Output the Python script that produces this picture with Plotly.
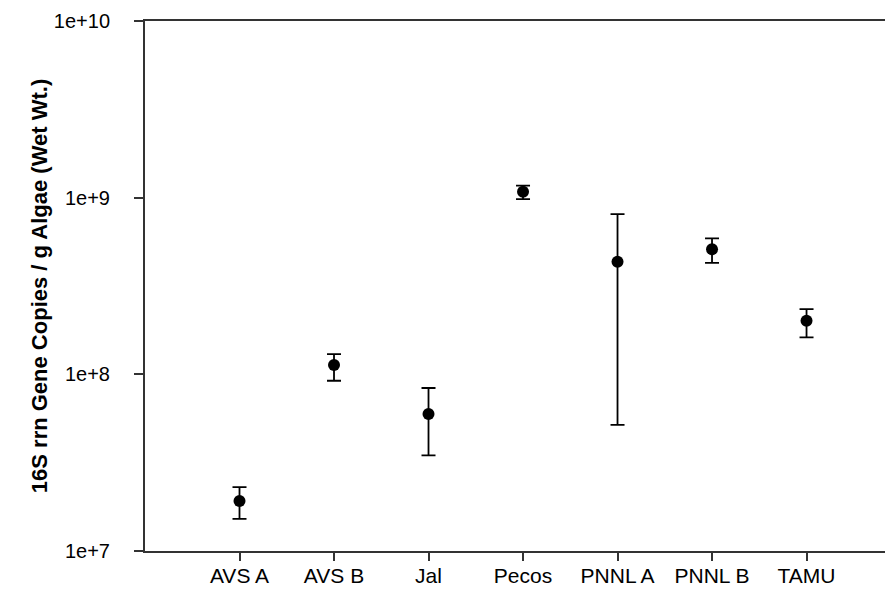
import plotly.graph_objects as go

sites = ["AVS A", "AVS B", "Jal", "Pecos", "PNNL A", "PNNL B", "TAMU"]
copies_mean = [1.92e7, 1.13e8, 5.96e7, 1.08e9, 4.34e8, 5.10e8, 2.01e8]
copies_upper = [2.30e7, 1.30e8, 8.37e7, 1.17e9, 8.07e8, 5.89e8, 2.34e8]
copies_lower = [1.52e7, 9.2e7, 3.48e7, 9.8e8, 5.17e7, 4.28e8, 1.62e8]

y_tickvals = [1e7, 1e8, 1e9, 1e10]
y_ticktext = ["1e+7", "1e+8", "1e+9", "1e+10"]

err_plus = [u - m for u, m in zip(copies_upper, copies_mean)]
err_minus = [m - l for m, l in zip(copies_mean, copies_lower)]

FONT = "Liberation Sans, Arial, sans-serif"

fig = go.Figure()
fig.add_trace(go.Scatter(
    x=sites, y=copies_mean, mode="markers",
    marker=dict(color="black", size=12, symbol="circle"),
    error_y=dict(type="data", symmetric=False, array=err_plus, arrayminus=err_minus,
                 color="black", thickness=1.8, width=7),
    showlegend=False,
))

axis_color = "#333333"
fig.update_layout(
    width=885, height=581,
    margin=dict(l=137, r=0, t=13, b=38),
    paper_bgcolor="white", plot_bgcolor="white",
    font=dict(family=FONT, color="black", size=20),
    xaxis=dict(
        type="category", categoryorder="array", categoryarray=sites,
        range=[-1, 6.915], automargin=False,
        showline=True, linecolor=axis_color, linewidth=2, mirror=True,
        ticks="outside", ticklen=8, tickwidth=1.5, tickcolor=axis_color,
        ticklabelstandoff=-3,
        showgrid=False, zeroline=False,
        tickfont=dict(size=21, family=FONT, color="black"),
    ),
    yaxis=dict(
        type="log", range=[7, 10], automargin=False,
        tickvals=y_tickvals, ticktext=y_ticktext,
        showline=True, linecolor=axis_color, linewidth=2, mirror=False,
        ticks="outside", ticklen=9, tickwidth=1.5, tickcolor=axis_color,
        ticklabelstandoff=20,
        showgrid=False, zeroline=False,
        tickfont=dict(size=20, family=FONT, color="black"),
        title=dict(text="<b>16S rrn Gene Copies / g Algae (Wet Wt.)</b>",
                   font=dict(size=22, family=FONT, color="black"),
                   standoff=0),
    ),
)

fig.write_html("out.html")
